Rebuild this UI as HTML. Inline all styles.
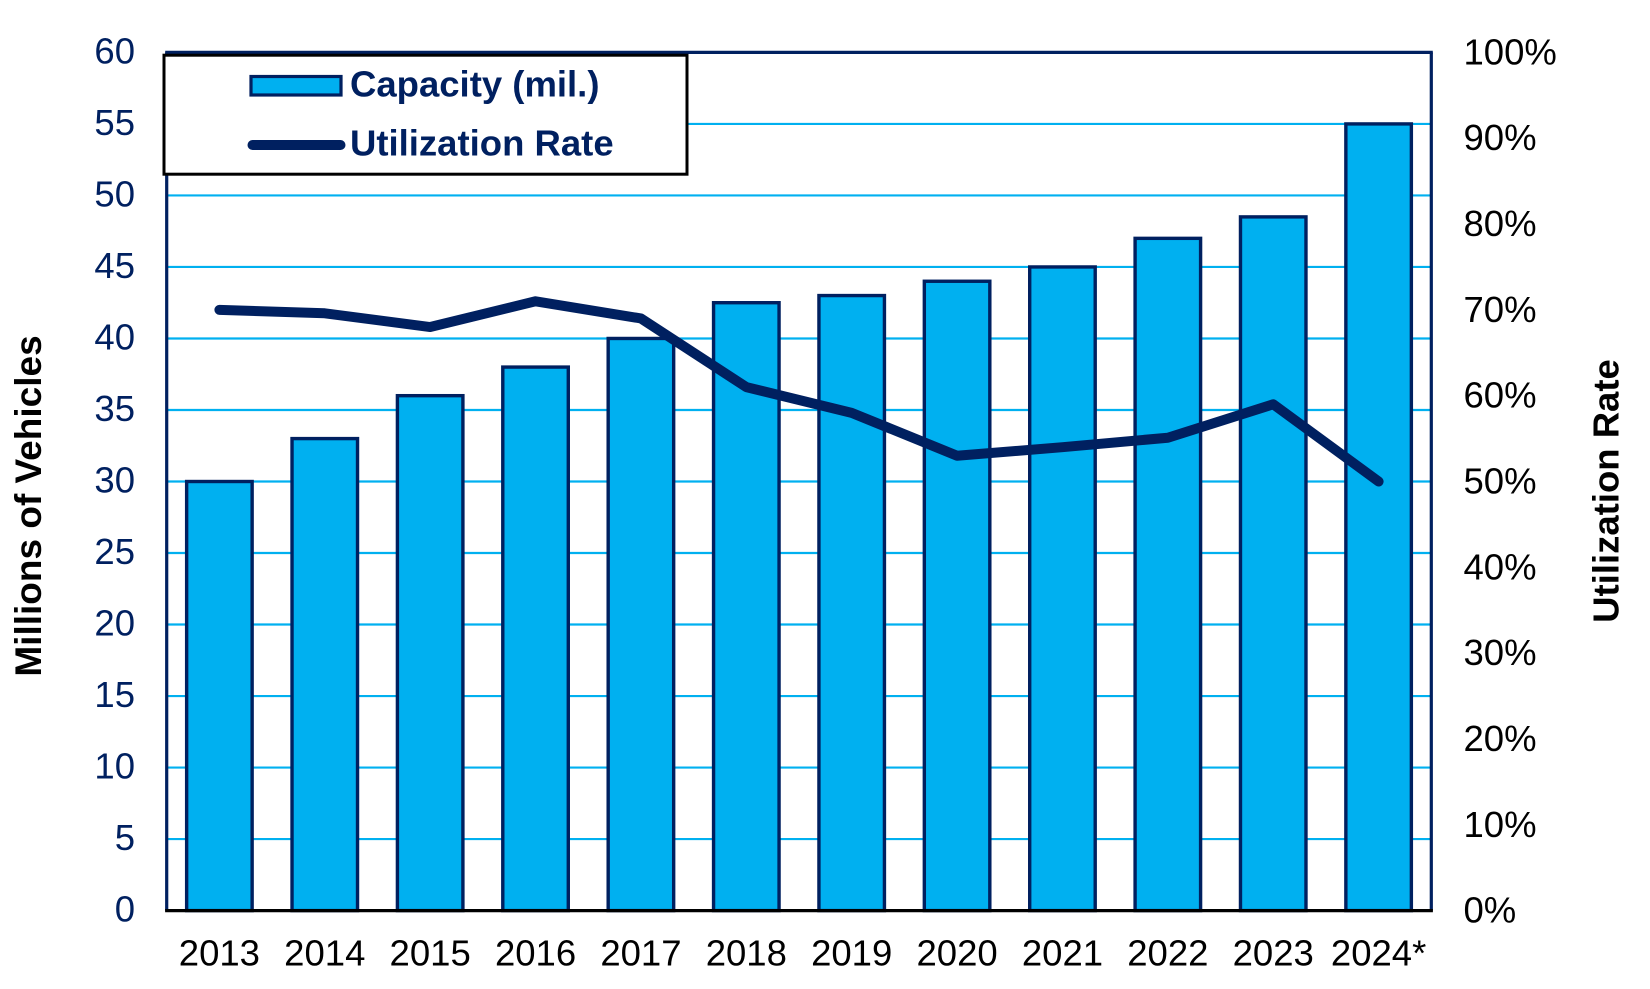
<!DOCTYPE html>
<html lang="en">
<head>
<meta charset="utf-8">
<title>Vehicle Capacity and Utilization Rate</title>
<style>
  html, body { margin: 0; padding: 0; background: #ffffff; }
  body { width: 1650px; height: 989px; overflow: hidden; }
  svg { display: block; font-family: "Liberation Sans", Arial, sans-serif; }
</style>
</head>
<body>
<svg id="chart" xmlns="http://www.w3.org/2000/svg" width="1650" height="989" viewBox="0 0 1650 989"></svg>
<script>
const categories = ['2013','2014','2015','2016','2017','2018','2019','2020','2021','2022','2023','2024*'];
const capacityValues = [30, 33, 36, 38, 40, 42.5, 43, 44, 45, 47, 48.5, 55];
const utilizationValues = [70, 69.6, 68, 71, 69, 61, 58, 53, 54, 55.1, 59, 50];
const leftTickValues = [0, 5, 10, 15, 20, 25, 30, 35, 40, 45, 50, 55, 60];
const rightTickValues = [0, 10, 20, 30, 40, 50, 60, 70, 80, 90, 100];

const NS = 'http://www.w3.org/2000/svg';
const NAVY = '#002060';
const CYAN = '#00B0F0';
const FONT = 36.5;
const plotLeft = 166.7, plotRight = 1431.3, plotTop = 52.4, plotBottom = 910.6;
const leftMax = 60, rightMax = 100;
const barWidth = 65.5;
const svg = document.getElementById('chart');

function xCenter(i) { return plotLeft + (i + 0.5) * (plotRight - plotLeft) / categories.length; }
function yLeft(v) { return plotBottom - (v / leftMax) * (plotBottom - plotTop); }
function yRight(v) { return plotBottom - (v / rightMax) * (plotBottom - plotTop); }

function make(tag, props, text) {
  const el = document.createElementNS(NS, tag);
  for (const k in props) el.setAttribute(k, props[k]);
  if (text !== undefined) el.textContent = text;
  svg.appendChild(el);
  return el;
}

// Gridlines
leftTickValues.forEach(function (v) {
  if (v === 0 || v === leftMax) return;
  const grid = make('line', { x1: plotLeft, x2: plotRight, y1: yLeft(v), y2: yLeft(v), stroke: CYAN, 'stroke-width': 2.2 });
  
  
});

// Bars
capacityValues.forEach(function (v, i) {
  const bar = make('rect', {
    x: xCenter(i) - barWidth / 2, y: yLeft(v), width: barWidth, height: plotBottom - yLeft(v),
    fill: CYAN, stroke: NAVY, 'stroke-width': 3.4
  });
  
  
});

// Plot border
const topAxis = make('line', { x1: plotLeft - 1.5, x2: plotRight + 1.5, y1: plotTop, y2: plotTop, stroke: NAVY, 'stroke-width': 3.2 });


const leftAxis = make('line', { x1: plotLeft, x2: plotLeft, y1: plotTop, y2: plotBottom, stroke: NAVY, 'stroke-width': 3.2 });


const rightAxis = make('line', { x1: plotRight, x2: plotRight, y1: plotTop, y2: plotBottom, stroke: NAVY, 'stroke-width': 3.2 });


const bottomAxis = make('line', { x1: plotLeft - 1.6, x2: plotRight + 1.6, y1: plotBottom, y2: plotBottom, stroke: '#000000', 'stroke-width': 3.2 });



// Utilization line
const linePoints = utilizationValues.map(function (v, i) { return xCenter(i) + ',' + yRight(v); }).join(' ');
const rateLine = make('polyline', {
  points: linePoints, fill: 'none', stroke: NAVY, 'stroke-width': 10,
  'stroke-linecap': 'round', 'stroke-linejoin': 'round'
});



// Left tick labels
leftTickValues.forEach(function (v) {
  const t = make('text', { x: 135, y: yLeft(v) + 11, 'text-anchor': 'end', 'font-size': FONT, fill: NAVY }, String(v));
  
  
});

// Right tick labels
rightTickValues.forEach(function (v) {
  const t = make('text', { x: 1463.5, y: yRight(v) + 12, 'text-anchor': 'start', 'font-size': FONT, fill: '#000000' }, v + '%');
  
  
});

// Category labels
categories.forEach(function (c, i) {
  const t = make('text', { x: xCenter(i), y: 965.5, 'text-anchor': 'middle', 'font-size': FONT, fill: '#000000' }, c);
  
  
});

// Axis titles
const yTitle = make('text', { transform: 'translate(41 506) rotate(-90)', 'text-anchor': 'middle', 'font-size': 37, 'font-weight': 'bold', fill: '#000000' }, 'Millions of Vehicles');


const y2Title = make('text', { transform: 'translate(1618.3 491) rotate(-90)', 'text-anchor': 'middle', 'font-size': FONT, 'font-weight': 'bold', fill: '#000000' }, 'Utilization Rate');



// Legend
const legendBox = make('rect', { x: 164, y: 55.2, width: 523, height: 119, fill: '#ffffff', stroke: '#000000', 'stroke-width': 3 });


const legendSwatch = make('rect', { x: 251, y: 76.5, width: 90, height: 18.5, fill: CYAN, stroke: NAVY, 'stroke-width': 3.2 });


const legendCapacity = make('text', { x: 350, y: 96.7, 'font-size': FONT, 'font-weight': 'bold', fill: NAVY }, 'Capacity (mil.)');


const legendLine = make('line', { x1: 252.5, x2: 340.5, y1: 145, y2: 145, stroke: NAVY, 'stroke-width': 10, 'stroke-linecap': 'round' });


const legendRate = make('text', { x: 350, y: 155.7, 'font-size': FONT, 'font-weight': 'bold', fill: NAVY }, 'Utilization Rate');


</script>
</body>
</html>
